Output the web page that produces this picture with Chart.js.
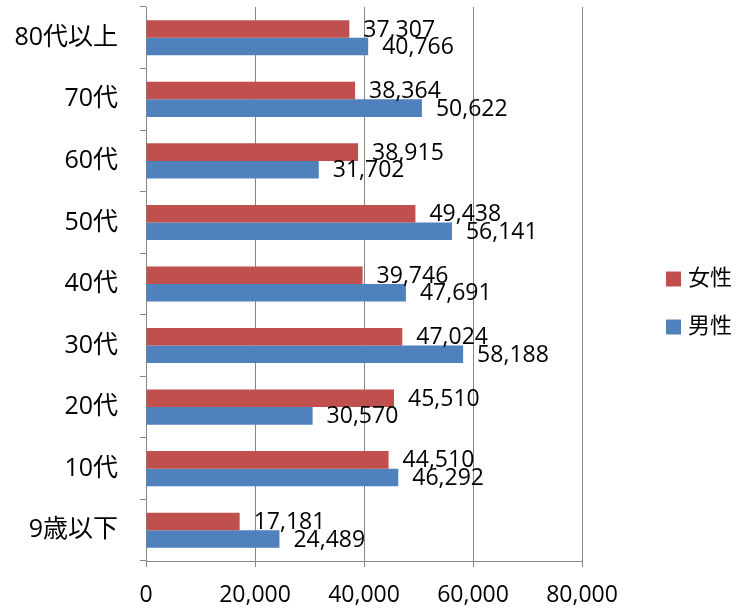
<!DOCTYPE html>
<html>
<head>
<meta charset="utf-8">
<script src="https://cdn.jsdelivr.net/npm/chart.js@4"></script>
<style>
  html, body { margin: 0; padding: 0; background: #fff; }
  #wrap { width: 742px; height: 610px; }
</style>
</head>
<body>
<div id="wrap"><canvas id="chart" width="742" height="610"></canvas></div>
<script>
// === DATA ===

const ageGroups = ["80代以上", "70代", "60代", "50代", "40代", "30代", "20代", "10代", "9歳以下"];
const female = [37307, 38364, 38915, 49438, 39746, 47024, 45510, 44510, 17181];
const male = [40766, 50622, 31702, 56141, 47691, 58188, 30570, 46292, 24489];
const seriesNames = ["女性", "男性"];
const xTicks = [0, 20000, 40000, 60000, 80000];

const FONT = "'Open Sans', 'Noto Sans CJK JP', sans-serif";
const GRID = "#868686";

// === PLUGINS ===

// value labels just past the end of each bar
const barLabels = {
  id: "barLabels",
  afterDatasetsDraw(chart) {
    const ctx = chart.ctx;
    ctx.save();
    ctx.font = "23px " + FONT;
    ctx.fillStyle = "#000";
    ctx.textBaseline = "middle";
    ctx.textAlign = "left";
    chart.data.datasets.forEach((ds, i) => {
      chart.getDatasetMeta(i).data.forEach((bar, j) => {
        ctx.fillText(ds.data[j].toLocaleString("en-US"), bar.x + 14, bar.y + 1);
      });
    });
    ctx.restore();
  }
};

// legend on the right, drawn from the datasets
const sideLegend = {
  id: "sideLegend",
  afterDraw(chart) {
    const ctx = chart.ctx;
    const x = 666;
    const rows = [279, 327];
    ctx.save();
    ctx.font = "22px " + FONT;
    ctx.textBaseline = "middle";
    chart.data.datasets.forEach((ds, i) => {
      ctx.fillStyle = ds.backgroundColor;
      ctx.fillRect(x, rows[i] - 7.5, 15, 15);
      ctx.fillStyle = "#000";
      ctx.fillText(ds.label, x + 22, rows[i]);
    });
    ctx.restore();
  }
};

// === CHART ===

new Chart(document.getElementById("chart"), {
  type: "bar",
  data: {
    labels: ageGroups,
    datasets: [
      {
        label: seriesNames[0],
        data: female,
        backgroundColor: "#C0504D",
        barPercentage: 1.0,
        categoryPercentage: 0.57
      },
      {
        label: seriesNames[1],
        data: male,
        backgroundColor: "#4F81BD",
        barPercentage: 1.0,
        categoryPercentage: 0.57
      }
    ]
  },
  options: {
    indexAxis: "y",
    responsive: false,
    animation: false,
    layout: { padding: { top: 7, right: 160, left: 0, bottom: 0 } },
    plugins: {
      legend: { display: false },
      tooltip: { enabled: false }
    },
    scales: {
      x: {
        min: 0,
        max: 80000,
        afterBuildTicks(scale) {
          scale.ticks = xTicks.map(v => ({ value: v }));
        },
        afterFit(scale) {
          scale.height = 49;
        },
        grid: {
          color: GRID,
          lineWidth: 1,
          tickLength: 6,
          tickColor: GRID
        },
        border: { color: GRID, width: 1 },
        ticks: {
          color: "#000",
          padding: 15,
          font: { family: FONT, size: 23 },
          callback: v => v.toLocaleString("en-US")
        }
      },
      y: {
        afterFit(scale) {
          scale.width = 146;
          scale.paddingTop = 0;
          scale.paddingBottom = 0;
        },
        grid: {
          offset: true,
          drawOnChartArea: false,
          tickLength: 6,
          tickColor: GRID
        },
        border: { color: GRID, width: 1 },
        ticks: {
          color: "#000",
          padding: 22,
          font: { family: FONT, size: 25 }
        }
      }
    }
  },
  plugins: [barLabels, sideLegend]
});
</script>
</body>
</html>
